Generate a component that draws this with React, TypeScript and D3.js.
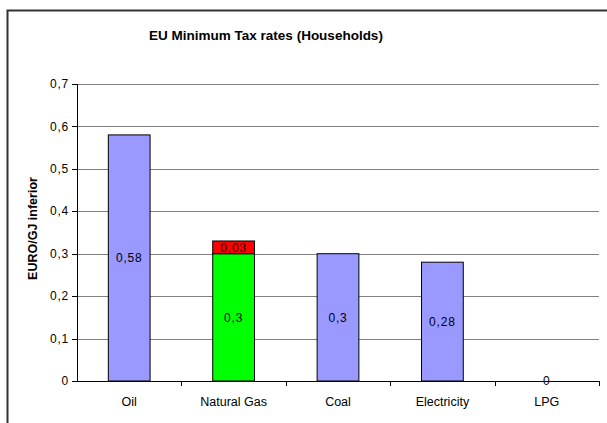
import React from "react";
import * as d3 from "d3";

const categories = ["Oil", "Natural Gas", "Coal", "Electricity", "LPG"];
const baseValues = [0.58, 0.3, 0.3, 0.28, 0];
const extraValues = [0, 0.03, 0, 0, 0];
const baseFill = ["#9999FF", "#00FF00", "#9999FF", "#9999FF", "#9999FF"];
const extraFill = "#FF0000";
const yTicks = [0, 0.1, 0.2, 0.3, 0.4, 0.5, 0.6, 0.7];

const W = 607;
const H = 423;
const plot = { left: 77, right: 599, top: 84, bottom: 381 };

const fmt = (v: number) => String(+v.toFixed(2)).replace(".", ",");

export default function App() {
  const x = d3
    .scaleBand<string>()
    .domain(categories)
    .range([plot.left, plot.right])
    .paddingInner(0.6)
    .paddingOuter(0.3);
  const xOuter = d3.scaleBand<string>().domain(categories).range([plot.left, plot.right]);
  const y = d3.scaleLinear().domain([0, 0.7]).range([plot.bottom, plot.top]);
  const font = "Arial, 'Liberation Sans', sans-serif";

  return (
    <svg
      width={W}
      height={H}
      style={{ position: "absolute", left: 0, top: 0, background: "#fff" }}
      fontFamily={font}
    >
      <rect x={0} y={0} width={W} height={H} fill="#fff" />
      {/* chart frame */}
      <path d={`M7.5,${H + 5} L7.5,10.5 L${W + 5},10.5`} fill="none" stroke="#333" strokeWidth={2} />
      <text x={266} y={39.5} textAnchor="middle" fontSize={13.5} fontWeight="bold" fill="#000">
        EU Minimum Tax rates (Households)
      </text>
      {/* gridlines and y ticks */}
      {yTicks.map((t) => (
        <g key={t}>
          {t > 0 && (
            <line x1={plot.left} x2={plot.right} y1={Math.round(y(t)) + 0.5} y2={Math.round(y(t)) + 0.5} stroke="#808080" strokeWidth={1} />
          )}
          <line x1={plot.left - 5} x2={plot.left} y1={Math.round(y(t)) + 0.5} y2={Math.round(y(t)) + 0.5} stroke="#000" strokeWidth={1} />
          <text x={plot.left - 8} y={y(t)} dy="0.35em" textAnchor="end" fontSize={12} letterSpacing={0.8} fill="#000">
            {fmt(t)}
          </text>
        </g>
      ))}
      <text
        transform={`translate(37,${(plot.top + plot.bottom) / 2 - 4}) rotate(-90)`}
        textAnchor="middle"
        fontSize={12.5}
        fontWeight="bold"
        fill="#000"
      >
        EURO/GJ inferior
      </text>
      {/* bars */}
      {categories.map((c, i) => {
        const bx = x(c)!;
        const bw = x.bandwidth();
        const b = baseValues[i];
        const e = extraValues[i];
        return (
          <g key={c}>
            {b > 0 && (
              <rect x={bx} y={y(b)} width={bw} height={y(0) - y(b)} fill={baseFill[i]} stroke="#000" strokeWidth={1} />
            )}
            {e > 0 && (
              <rect x={bx} y={y(b + e)} width={bw} height={y(b) - y(b + e)} fill={extraFill} stroke="#000" strokeWidth={1} />
            )}
          </g>
        );
      })}
      {/* axes */}
      <line x1={plot.left + 0.5} x2={plot.left + 0.5} y1={plot.top} y2={plot.bottom} stroke="#000" strokeWidth={1} />
      <line x1={plot.left} x2={plot.right} y1={plot.bottom + 0.5} y2={plot.bottom + 0.5} stroke="#000" strokeWidth={1} />
      {categories.map((c) => (
        <line
          key={"t" + c}
          x1={Math.round(xOuter(c)! + xOuter.bandwidth()) + 0.5}
          x2={Math.round(xOuter(c)! + xOuter.bandwidth()) + 0.5}
          y1={plot.bottom}
          y2={plot.bottom + 5}
          stroke="#000"
        />
      ))}
      {categories.map((c) => (
        <text
          key={"l" + c}
          x={xOuter(c)! + xOuter.bandwidth() / 2}
          y={406}
          textAnchor="middle"
          fontSize={12.5}
          fill="#000"
        >
          {c}
        </text>
      ))}
      {/* data labels */}
      {categories.map((c, i) => {
        const cx = x(c)! + x.bandwidth() / 2;
        const b = baseValues[i];
        const e = extraValues[i];
        return (
          <g key={"d" + c}>
            <text x={cx} y={y(b / 2)} dy="0.35em" textAnchor="middle" fontSize={12} letterSpacing={0.8} fill="#000">
              {fmt(b)}
            </text>
            {e > 0 && (
              <text x={cx} y={y(b + e / 2)} dy="0.35em" textAnchor="middle" fontSize={12} letterSpacing={0.8} fill="#000">
                {fmt(e)}
              </text>
            )}
          </g>
        );
      })}
    </svg>
  );
}
